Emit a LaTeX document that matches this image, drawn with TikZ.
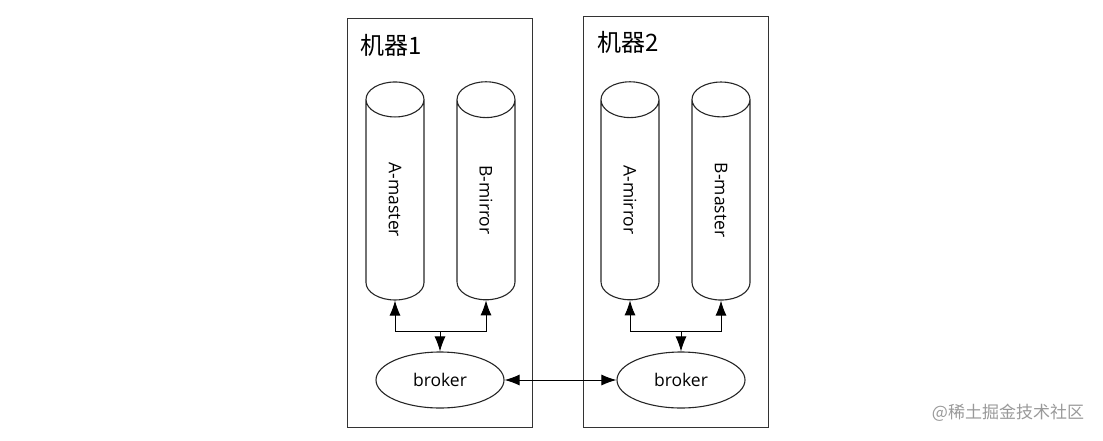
\documentclass[tikz,border=0pt]{standalone}
\usepackage{fontspec}
\setmainfont{Open Sans}
\newfontfamily\cjkfont{Noto Sans CJK SC}
\usetikzlibrary{arrows.meta,shapes.geometric}

\begin{document}
\begin{tikzpicture}[x=1pt,y=-1pt,
  machine/.style={draw=black!80, line width=1pt, minimum width=185pt, inner sep=0pt},
  title/.style={font=\cjkfont\fontsize{24}{28}\selectfont, anchor=west, inner sep=0pt},
  store/.style={cylinder, draw=black!85, line width=1.1pt, shape border rotate=90,
    minimum height=218pt, minimum width=58pt, aspect=2.75, inner sep=0pt,
    font=\fontsize{17.5}{20}\selectfont},
  brokernode/.style={ellipse, draw=black!85, line width=1.1pt, minimum width=128pt, minimum height=56pt,
    inner sep=0pt, font=\fontsize{17.5}{20}\selectfont},
  link/.style={-{Latex[length=15pt,width=11pt]}, line width=1pt}]
\useasboundingbox (0,0) rectangle (1103,440);
% machines
\node[machine, minimum height=409pt] (m1) at (439.5,222.5) {};
\node[title] (t1) at (360,45) {机器1};
\node[machine, minimum height=411pt] (m2) at (675.5,221.5) {};
\node[title] (t2) at (597,42) {机器2};
% queues
\node[store] (amaster) at (395,200) {\rotatebox{-90}{A-master}};
\node[store] (bmirror) at (486,200) {\rotatebox{-90}{B-mirror}};
\node[store] (amirror) at (630,200) {\rotatebox{-90}{A-mirror}};
\node[store] (bmaster) at (721,200) {\rotatebox{-90}{B-master}};
% brokers
\node[brokernode] (broker1) at (440,380) {broker};
\node[brokernode] (broker2) at (681,380) {broker};
% links
\coordinate (fork1) at (440,331);
\coordinate (fork2) at (681,331);
\draw[link] (fork1) -- (broker1.north);
\draw[link] (fork1) -| (amaster.south);
\draw[link] (fork1) -| (bmirror.south);
\draw[link] (fork2) -- (broker2.north);
\draw[link] (fork2) -| (amirror.south);
\draw[link] (fork2) -| (bmaster.south);
\draw[link, {Latex[length=15pt,width=11pt]}-{Latex[length=15pt,width=11pt]}] (broker1.east) -- (broker2.west);
% watermark
\node[font=\cjkfont\fontsize{17}{20}\selectfont, text=black!40] (mark) at (1008,413) {@稀土掘金技术社区};
\end{tikzpicture}
\end{document}
